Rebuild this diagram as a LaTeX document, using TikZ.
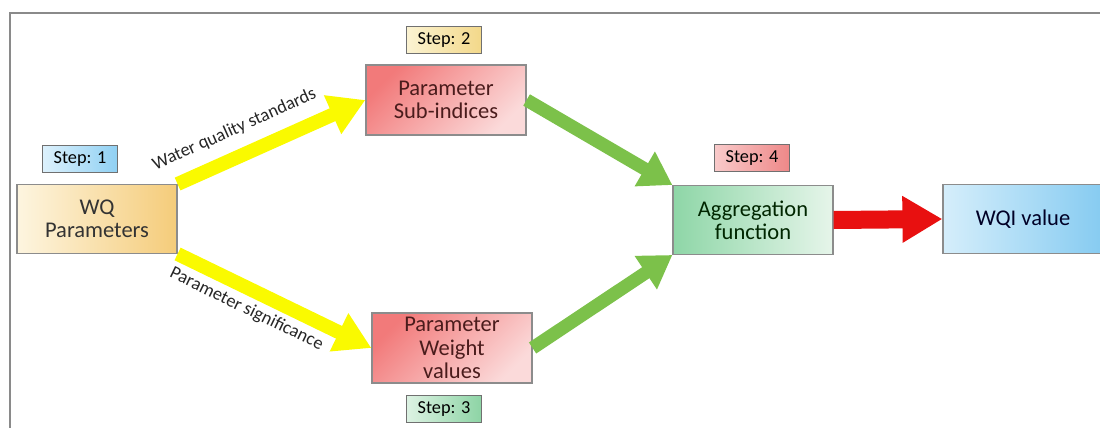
\documentclass[tikz,border=0pt]{standalone}
\usepackage{fontspec}
\setmainfont{Carlito}
\usepackage{xcolor}
\usepackage{tikz}
\usetikzlibrary{arrows.meta}

\definecolor{framegray}{HTML}{8A8A8A}
\definecolor{boxgray}{HTML}{8C8C8C}
\definecolor{wqL}{HTML}{FDF5E0}
\definecolor{wqR}{HTML}{F5CC7A}
\definecolor{blueL}{HTML}{DDF1FC}
\definecolor{blueR}{HTML}{8FD0F3}
\definecolor{pinkTL}{HTML}{F27A7A}
\definecolor{pinkBR}{HTML}{FBDADA}
\definecolor{yelL}{HTML}{FBF3D2}
\definecolor{yelR}{HTML}{F3D88A}
\definecolor{grL}{HTML}{DDF2E3}
\definecolor{grR}{HTML}{8DD4A5}
\definecolor{aggL}{HTML}{8ED6A7}
\definecolor{aggR}{HTML}{E6F5EA}
\definecolor{redL}{HTML}{F9CACA}
\definecolor{redR}{HTML}{EE8888}
\definecolor{wqiL}{HTML}{D5EEFB}
\definecolor{wqiR}{HTML}{86CBF1}
\definecolor{yflowcol}{HTML}{FAFA00}
\definecolor{gflowcol}{HTML}{7CC14A}
\definecolor{rflowcol}{HTML}{E81010}
\definecolor{maroon}{HTML}{4A1C1C}

\begin{document}
\begin{tikzpicture}[
    x=0.025cm, y=-0.025cm,
    box/.style={draw=boxgray, line width=0.8pt, minimum width=4cm, minimum height=1.72cm,
        align=center, inner sep=1pt, font=\fontsize{16}{16.5}\selectfont},
    stepbox/.style={draw=boxgray!80!black, line width=0.9pt, minimum width=1.875cm,
        minimum height=0.68cm, inner sep=1pt, font=\fontsize{13}{14}\selectfont},
    pinkbox/.style={box, top color=pinkTL, bottom color=pinkBR, shading angle=45, text=maroon},
    elabel/.style={font=\fontsize{13}{14}\selectfont, text=black!85, sloped, inner sep=2pt},
    yflow/.style={yflowcol, line width=0.35cm, -{Triangle[length=0.9cm,width=1cm]}},
    gflow/.style={gflowcol, line width=0.33cm, -{Triangle[length=0.8cm,width=0.95cm]}},
    rflow/.style={rflowcol, line width=0.45cm, -{Triangle[length=1cm,width=1.1cm]}}
]

\useasboundingbox (0,0) rectangle (1100,428);
\draw[framegray, line width=1.5pt] (10,428) -- (10,13) -- (1100,13);

\node[box, left color=wqL, right color=wqR, text=black!80] (wq) at (97,219) {WQ\\Parameters};
\node[stepbox, left color=blueL, right color=blueR] (step1) at (80,159) {Step: 1};

\node[pinkbox, minimum height=1.75cm] (sub) at (446,100) {Parameter\\Sub-indices};
\node[stepbox, left color=yelL, right color=yelR] (step2) at (444,40) {Step: 2};

\node[pinkbox, minimum height=1.75cm] (weight) at (452,348) {Parameter\\Weight\\values};
\node[stepbox, left color=grL, right color=grR] (step3) at (444,409) {Step: 3};

\node[box, left color=aggL, right color=aggR, text=black!85!green] (agg) at (753,220) {Aggregation\\function};
\node[stepbox, left color=redL, right color=redR] (step4) at (752,158) {Step: 4};

\node[box, left color=wqiL, right color=wqiR, text=black!85!blue] (wqi) at (1023,219) {WQI value};

\draw[yflow] (wq.north east) -- node[elabel, above=0.22cm, pos=0.36] {Water quality standards} (sub.west);
\draw[yflow] (wq.south east) -- node[elabel, below=0.05cm, pos=0.4] {Parameter significance} (weight.west);
\draw[gflow] (sub.east) -- (agg.north west);
\draw[gflow] (weight.east) -- (agg.south west);
\draw[rflow] (agg.east) -- (wqi.west);

\end{tikzpicture}
\end{document}
